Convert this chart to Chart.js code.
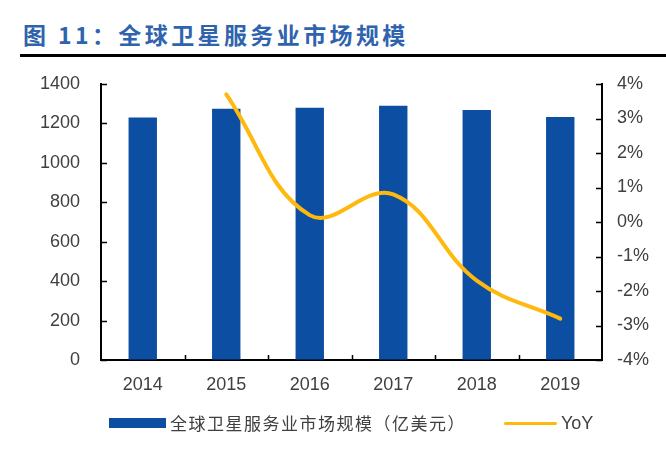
<!DOCTYPE html>
<html>
<head>
<meta charset="utf-8">
<script src="https://cdn.jsdelivr.net/npm/chart.js@4"></script>
<style>
  html, body { margin: 0; padding: 0; background: #fff; }
  #wrap { position: relative; width: 666px; height: 449px; overflow: hidden; }
  #title {
    position: absolute; left: 23px; top: 20px; white-space: nowrap;
    font-family: "Noto Sans CJK SC", sans-serif; font-weight: bold;
    font-size: 23px; letter-spacing: 3.4px; color: #2f63ad; line-height: 28px;
  }
  #rule { position: absolute; left: 20px; top: 54px; width: 646px; height: 3px; background: #000; }
  canvas { position: absolute; left: 0; top: 0; }
  .lg { position: absolute; white-space: nowrap; }
  #sw1 { left: 109px; top: 418px; width: 57px; height: 10px; background: #0b4ea2; }
  #tx1 { left: 170px; top: 411px; font-family: "Noto Sans CJK SC", serif; font-size: 17px; letter-spacing: 1.5px; color: #404040; line-height: 24px; }
  #sw2 { left: 504px; top: 422px; width: 53px; height: 3px; background: #ffb80c; border-radius: 2px; }
  #tx2 { left: 561px; top: 411px; font-family: "Liberation Sans", Arial, sans-serif; font-size: 18px; color: #404040; line-height: 24px; }
</style>
</head>
<body>
<div id="wrap">
  <div id="title">图 11：全球卫星服务业市场规模</div>
  <div id="rule"></div>
  <canvas id="c" width="666" height="449"></canvas>
  <div class="lg" id="sw1"></div>
  <div class="lg" id="tx1">全球卫星服务业市场规模（亿美元）</div>
  <div class="lg" id="sw2"></div>
  <div class="lg" id="tx2">YoY</div>
</div>
<script>
// data
const years = ["2014", "2015", "2016", "2017", "2018", "2019"];
const marketSize = [1230, 1275, 1280, 1290, 1268, 1232];
const yoy = [null, 3.7, 0.2, 0.8, -1.7, -2.8];

const tickColor = "#404040";
const tickFont = { family: "'Liberation Sans', Arial, sans-serif", size: 18 };

// small inward tick marks like the original
const innerTicks = {
  id: "innerTicks",
  afterDatasetsDraw(chart) {
    const c = chart.ctx;
    const a = chart.chartArea;
    const yl = chart.scales.y, yr = chart.scales.y1, x = chart.scales.x;
    c.save();
    c.strokeStyle = "#000";
    c.lineWidth = 1.5;
    c.beginPath();
    yl.ticks.forEach(t => {
      const p = Math.round(yl.getPixelForValue(t.value)) + 0.5;
      c.moveTo(a.left, p); c.lineTo(a.left + 6, p);
    });
    yr.ticks.forEach(t => {
      const p = Math.round(yr.getPixelForValue(t.value)) + 0.5;
      c.moveTo(a.right - 6, p); c.lineTo(a.right, p);
    });
    for (let i = 1; i < years.length; i++) {
      const p = Math.round((x.getPixelForValue(i - 1) + x.getPixelForValue(i)) / 2) + 0.5;
      c.moveTo(p, a.bottom); c.lineTo(p, a.bottom - 5);
    }
    c.stroke();
    c.restore();
  }
};

new Chart(document.getElementById("c"), {
  data: {
    labels: years,
    datasets: [
      {
        type: "line",
        label: "YoY",
        data: yoy,
        yAxisID: "y1",
        borderColor: "#ffb80c",
        borderWidth: 4,
        borderCapStyle: "round",
        pointRadius: 0,
        tension: 0.4,
        order: 0
      },
      {
        type: "bar",
        label: "全球卫星服务业市场规模（亿美元）",
        data: marketSize,
        yAxisID: "y",
        backgroundColor: "#0b4ea2",
        categoryPercentage: 1,
        barPercentage: 0.34,
        order: 1
      }
    ]
  },
  options: {
    responsive: false,
    animation: false,
    layout: { padding: { left: 0, right: 0, top: 84, bottom: 59 } },
    plugins: { legend: { display: false }, tooltip: { enabled: false } },
    scales: {
      x: {
        grid: { drawOnChartArea: false, drawTicks: false },
        border: { color: "#000", width: 2 },
        ticks: { color: tickColor, font: tickFont, padding: 14 },
        afterFit(s) { s.height = 30; }
      },
      y: {
        position: "left",
        min: 0, max: 1400,
        grid: { drawOnChartArea: false, drawTicks: false },
        border: { color: "#000", width: 2 },
        ticks: { stepSize: 200, color: tickColor, font: tickFont, padding: 21,
                 callback: v => String(v) },
        afterFit(s) { s.width = 101; }
      },
      y1: {
        position: "right",
        min: -4, max: 4,
        grid: { drawOnChartArea: false, drawTicks: false },
        border: { color: "#000", width: 2 },
        ticks: { stepSize: 1, color: tickColor, font: tickFont, padding: 15,
                 callback: v => v + "%" },
        afterFit(s) { s.width = 64; }
      }
    }
  },
  plugins: [innerTicks]
});
</script>
</body>
</html>
